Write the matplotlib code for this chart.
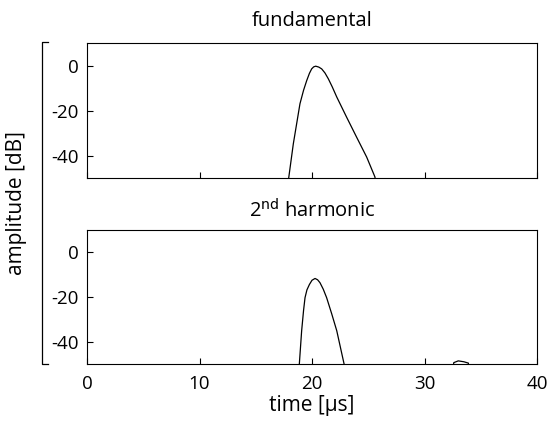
import numpy as np
import matplotlib
matplotlib.use('Agg')
import matplotlib.pyplot as plt
from matplotlib.lines import Line2D

# ── Envelope data ────────────────────────────────────────────────────────────
fund_t  = [0.0, 17.9, 17.92, 18.34, 18.93, 19.25, 19.53, 19.77, 19.97, 20.15,
           20.33, 20.6, 20.86, 21.15, 21.45, 21.8, 22.2, 23.08, 23.97, 24.86,
           25.6, 25.62, 40.0]
fund_db = [-60, -60, -50.3, -34.8, -17.0, -11.0, -6.7, -3.5, -1.5, -0.6,
           -0.3, -0.7, -1.5, -3.3, -5.9, -9.5, -14.0, -23.0, -31.9, -40.7,
           -49.6, -60, -60]

harm_t  = [0.0, 18.85, 18.87, 19.08, 19.25, 19.38, 19.55, 19.77, 20.0, 20.27,
           20.5, 20.71, 21.0, 21.3, 21.75, 22.2, 22.87, 22.9, 32.4, 32.6,
           33.0, 33.5, 33.9, 34.1, 40.0]
harm_db = [-60, -60, -50.3, -35.1, -26.0, -20.3, -16.8, -14.4, -12.5, -11.7,
           -12.3, -13.6, -16.5, -20.3, -27.5, -35.1, -50.4, -60, -60, -49.4,
           -48.6, -49.0, -49.6, -60, -60]

x_ticks = [0, 10, 20, 30, 40]
y_ticks = [-40, -20, 0]

plt.rcParams['font.family'] = ['Open Sans', 'DejaVu Sans']
plt.rcParams['axes.unicode_minus'] = False

W, H = 551, 421
fig = plt.figure(figsize=(W / 100, H / 100), dpi=100)

def _axes(top_px, bot_px):
    return fig.add_axes([87 / W, 1 - bot_px / H, (537 - 87) / W, (bot_px - top_px) / H])

ax1 = _axes(43, 178)
ax2 = _axes(230, 364)

for ax, t, db, title, tpad in [(ax1, fund_t, fund_db, 'fundamental', 12),
                               (ax2, harm_t, harm_db, '2$^{\\mathrm{nd}}$ harmonic', 9)]:
    ax.plot(t, db, color='black', linewidth=0.9)
    ax.set_xlim(0, 40)
    ax.set_ylim(-50, 10)
    ax.set_xticks(x_ticks)
    ax.set_yticks(y_ticks)
    ax.tick_params(direction='in', length=4, width=0.8, labelsize=13.5)
    ax.tick_params(axis='y', pad=6)
    ax.tick_params(axis='x', pad=8)
    ax.set_title(title, fontsize=14.5, pad=tpad)
    for s in ax.spines.values():
        s.set_linewidth(0.8)

ax1.set_xticklabels([])
ax2.set_xlabel('time [µs]', fontsize=15, labelpad=1)

fig.text(17 / W, 1 - 203 / H, 'amplitude [dB]', rotation=90,
         ha='center', va='center', fontsize=15)

# bracket spanning both panels
bx, by0, by1 = 42 / W, 1 - 42 / H, 1 - 364 / H
fig.add_artist(Line2D([bx + 6 / W, bx, bx, bx + 6 / W], [by0, by0, by1, by1],
                      transform=fig.transFigure, color='black', linewidth=0.9))

fig.savefig('out.png', dpi=100)
